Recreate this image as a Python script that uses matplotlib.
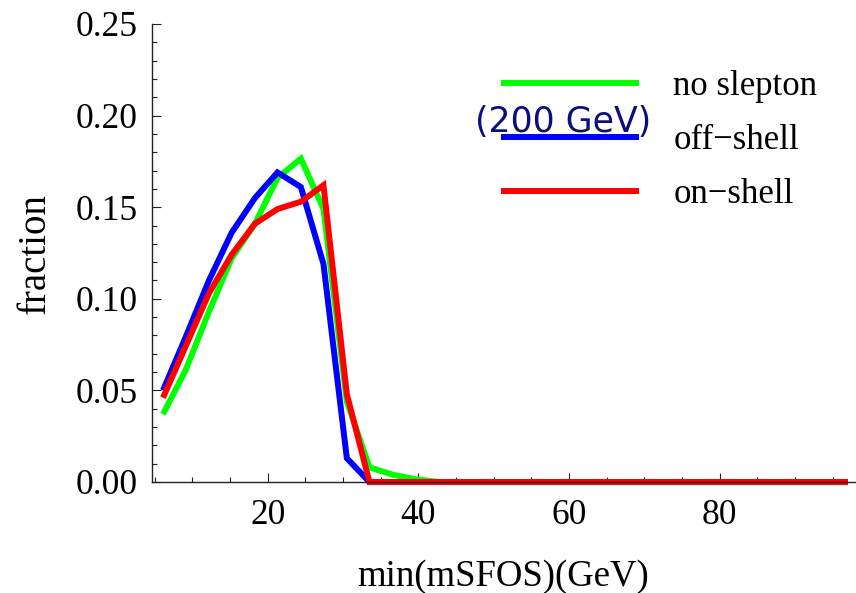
import matplotlib
matplotlib.use("Agg")
import matplotlib.pyplot as plt
from matplotlib.ticker import MultipleLocator, FormatStrFormatter

# Data
x = [6.1, 9.1, 12.2, 15.2, 18.3, 21.3, 24.4, 27.4, 30.5, 33.5, 36.6, 39.6,
     42.7, 45.7, 48.8, 51.8, 54.9, 57.9, 61.0, 64.0, 67.1, 70.1, 73.2, 76.2,
     79.3, 82.3, 85.4, 88.4, 91.5, 94.5, 97.0]
no_slepton = [0.037, 0.061, 0.093, 0.122, 0.141, 0.166, 0.1765, 0.149, 0.044,
              0.008, 0.004, 0.0015, 0, 0, 0, 0, 0, 0, 0, 0, 0, 0, 0, 0,
              0, 0, 0, 0, 0, 0, 0]
off_shell = [0.050, 0.079, 0.110, 0.136, 0.155, 0.169, 0.161, 0.119, 0.013,
             0.0, 0, 0, 0, 0, 0, 0, 0, 0, 0, 0, 0, 0, 0, 0,
             0, 0, 0, 0, 0, 0, 0]
on_shell = [0.046, 0.074, 0.103, 0.124, 0.141, 0.149, 0.153, 0.162, 0.048,
            0.0, 0, 0, 0, 0, 0, 0, 0, 0, 0, 0, 0, 0, 0, 0,
            0, 0, 0, 0, 0, 0, 0]
labels = ["no slepton", "off\u2212shell", "on\u2212shell"]
colors = ["#00ff00", "#0000ff", "#ff0000"]
xlabel = "min(mSFOS)(GeV)"
ylabel = "fraction"
note = "(200 GeV)"

plt.rcParams['font.family'] = ['Liberation Serif', 'DejaVu Serif']

W, H = 856, 593
fig = plt.figure(figsize=(W / 100, H / 100), dpi=100)
ax_l, ax_r, ax_t, ax_b = 151.7, 855, 24, 482
ax = fig.add_axes([ax_l / W, 1 - ax_b / H, (ax_r - ax_l) / W, (ax_b - ax_t) / H])

handles = []
for ys, lab, c in zip([no_slepton, off_shell, on_shell], labels, colors):
    h, = ax.plot(x, ys, color=c, lw=4.3, label=lab, clip_on=False,
                 solid_joinstyle='miter', solid_capstyle='butt')
    handles.append(h)

ax.set_xlim(4.6, 97.95)
ax.set_ylim(0, 0.25)

for s in ['top', 'right']:
    ax.spines[s].set_visible(False)
for s in ['left', 'bottom']:
    ax.spines[s].set_linewidth(1.0)
    ax.spines[s].set_color('#222222')

ax.xaxis.set_major_locator(MultipleLocator(20))
ax.xaxis.set_minor_locator(MultipleLocator(5))
ax.yaxis.set_major_locator(MultipleLocator(0.05))
ax.yaxis.set_minor_locator(MultipleLocator(0.01))
ax.yaxis.set_major_formatter(FormatStrFormatter('%.2f'))
ax.xaxis.set_major_formatter(FormatStrFormatter('%d'))

ax.tick_params(axis='both', which='major', direction='in', length=6.5,
               width=0.8, color='#222222', labelsize=25.5)
ax.tick_params(axis='both', which='minor', direction='in', length=3.5,
               width=0.8, color='#222222')
ax.tick_params(axis='x', which='major', pad=12)
ax.tick_params(axis='y', which='major', pad=10)

ax.set_xlabel(xlabel, fontsize=26.5, labelpad=20)
ax.set_ylabel(ylabel, fontsize=28, labelpad=16)

leg = ax.legend(handles=handles, loc='upper left',
                bbox_to_anchor=((501 - ax_l) / (ax_r - ax_l), (ax_b - 70) / (ax_b - ax_t)),
                frameon=False, fontsize=25, handlelength=3.98, handletextpad=0.98,
                labelspacing=0.6, borderpad=0, borderaxespad=0)

ax.text((563 - ax_l) / (ax_r - ax_l), (ax_b - 122) / (ax_b - ax_t), note,
        transform=ax.transAxes, ha='center', va='center', fontsize=25,
        color='#0d0d80', family=['DejaVu Sans'], zorder=5)

fig.savefig("out.png", dpi=100)
